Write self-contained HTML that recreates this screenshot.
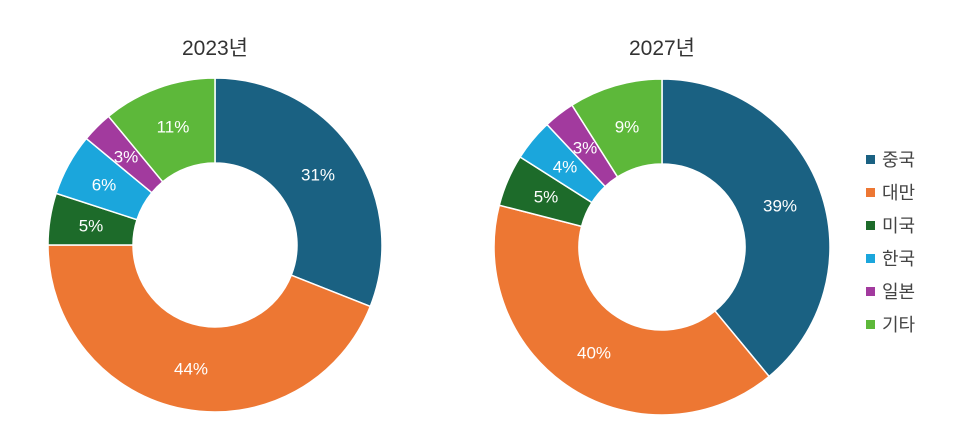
<!DOCTYPE html>
<html><head><meta charset="utf-8">
<style>
html,body{margin:0;padding:0;background:#fff;}
svg{display:block;font-family:"Liberation Sans","Noto Sans CJK KR",sans-serif;}
.l{fill:#fff;font-size:17px;text-anchor:middle;dominant-baseline:central;}
.t{fill:#333;font-size:21px;text-anchor:middle;}
.g{fill:#444;font-size:18px;dominant-baseline:central;}
</style></head>
<body>
<svg id="s" width="953" height="442" viewBox="0 0 953 442">
<g id="p"></g>
<text class="t" x="215" y="55">2023년</text>
<text class="t" x="662" y="55">2027년</text>
<text class="l" x="318" y="175">31%</text>
<text class="l" x="191" y="369">44%</text>
<text class="l" x="91" y="226">5%</text>
<text class="l" x="104" y="185">6%</text>
<text class="l" x="126" y="157">3%</text>
<text class="l" x="173" y="127">11%</text>
<text class="l" x="780" y="206">39%</text>
<text class="l" x="594" y="353">40%</text>
<text class="l" x="546" y="197">5%</text>
<text class="l" x="565" y="167">4%</text>
<text class="l" x="585" y="148">3%</text>
<text class="l" x="627" y="127">9%</text>
<rect x="866" y="155" width="9" height="9" fill="#1a6182"/><text class="g" x="882" y="160">중국</text>
<rect x="866" y="188" width="9" height="9" fill="#ed7733"/><text class="g" x="882" y="193">대만</text>
<rect x="866" y="221" width="9" height="9" fill="#1d6b2a"/><text class="g" x="882" y="226">미국</text>
<rect x="866" y="254" width="9" height="9" fill="#1ba6dc"/><text class="g" x="882" y="259">한국</text>
<rect x="866" y="287" width="9" height="9" fill="#a23a9e"/><text class="g" x="882" y="292">일본</text>
<rect x="866" y="320" width="9" height="9" fill="#5db83a"/><text class="g" x="882" y="325">기타</text>
</svg>
<script>
var cols=["#1a6182","#ed7733","#1d6b2a","#1ba6dc","#a23a9e","#5db83a"];
function donut(cx,cy,R,r,vals){
  var g=document.getElementById("p"),a=0,h="";
  vals.forEach(function(v,i){
    var a0=a/100*2*Math.PI,a1=(a+v)/100*2*Math.PI;a+=v;
    function P(rr,t){return (cx+rr*Math.sin(t)).toFixed(2)+","+(cy-rr*Math.cos(t)).toFixed(2);}
    var lg=(a1-a0)>Math.PI?1:0;
    h+='<path d="M'+P(R,a0)+' A'+R+','+R+' 0 '+lg+' 1 '+P(R,a1)+' L'+P(r,a1)+' A'+r+','+r+' 0 '+lg+' 0 '+P(r,a0)+' Z" fill="'+cols[i]+'" stroke="#fff" stroke-width="1.5"/>';
  });
  g.innerHTML+=h;
}
donut(215,245,167,82,[31,44,5,6,3,11]);
donut(662,247,168,83,[39,40,5,4,3,9]);
</script>
</body></html>
